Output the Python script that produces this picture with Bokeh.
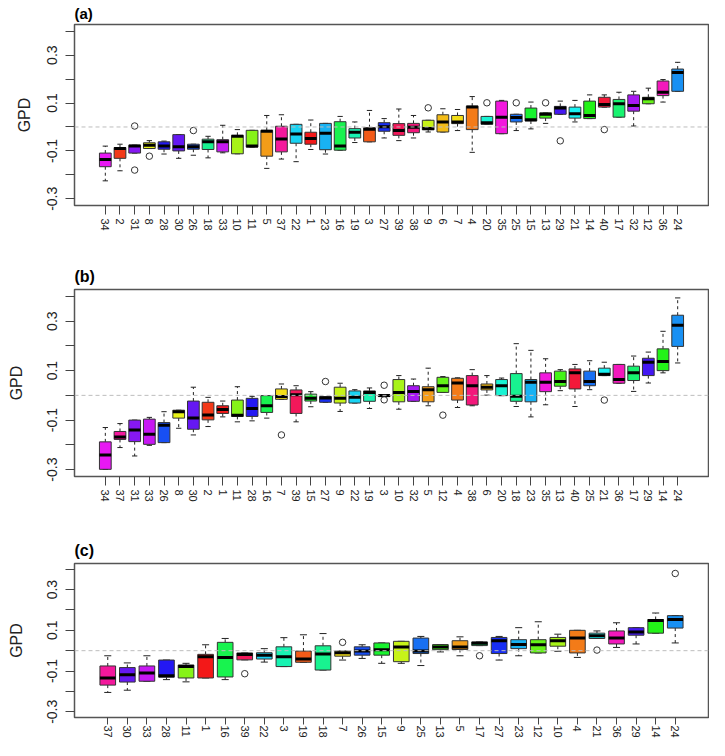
from bokeh.plotting import figure
from bokeh.models import Range1d, FixedTicker, PrintfTickFormatter, ColumnDataSource, Span
from bokeh.layouts import column
from bokeh.embed import file_html
from bokeh.resources import INLINE

FONT = "Liberation Sans"

# rainbow(40) colour of each site number 1..40
RAINBOW40 = ["#FF0000", "#FF2600", "#FF4D00", "#FF7300", "#FF9900", "#FFBF00", "#FFE600", "#F2FF00",
             "#CCFF00", "#A6FF00", "#80FF00", "#59FF00", "#33FF00", "#0DFF00", "#00FF1A", "#00FF40",
             "#00FF66", "#00FF8C", "#00FFB3", "#00FFD9", "#00FFFF", "#00D9FF", "#00B3FF", "#008CFF",
             "#0066FF", "#0040FF", "#001AFF", "#0D00FF", "#3300FF", "#5900FF", "#8000FF", "#A600FF",
             "#CC00FF", "#F200FF", "#FF00E6", "#FF00BF", "#FF0099", "#FF0073", "#FF004D", "#FF0026"]

# ---------------- panel (a) ----------------
labels_a = ["34", "2", "31", "8", "28", "30", "26", "18", "33", "10", "11", "5", "37", "22", "1", "23", "16", "19", "3", "27",
            "39", "38", "9", "6", "7", "4", "20", "35", "25", "15", "13", "29", "21", "14", "40", "17", "32", "12", "36", "24"]
lo_a = [-0.225, -0.183, -0.109, -0.090, -0.113, -0.131, -0.118, -0.129, -0.108, -0.112,
        -0.084, -0.173, -0.134, -0.145, -0.094, -0.113, -0.097, -0.065, -0.062, -0.046,
        -0.057, -0.046, -0.021, -0.021, -0.015, -0.106, 0.011, -0.028, -0.015, -0.008,
        0.015, 0.053, 0.021, 0.035, 0.083, 0.041, 0.004, 0.097, 0.104, 0.149]
q1_a = [-0.166, -0.131, -0.109, -0.090, -0.093, -0.100, -0.093, -0.094, -0.104, -0.112,
        -0.084, -0.122, -0.104, -0.068, -0.072, -0.095, -0.097, -0.046, -0.062, -0.018,
        -0.035, -0.024, -0.012, -0.021, 0.014, -0.011, 0.011, -0.028, 0.021, 0.025,
        0.037, 0.053, 0.037, 0.035, 0.083, 0.041, 0.066, 0.097, 0.131, 0.149]
med_a = [-0.136, -0.090, -0.079, -0.076, -0.080, -0.083, -0.083, -0.062, -0.062, -0.039,
         -0.080, -0.018, -0.050, -0.029, -0.048, -0.026, -0.080, -0.022, -0.010, 0.001,
         -0.015, -0.001, -0.006, 0.021, 0.021, 0.083, 0.018, 0.041, 0.040, 0.030,
         0.053, 0.079, 0.055, 0.048, 0.094, 0.097, 0.090, 0.118, 0.145, 0.228]
q3_a = [-0.109, -0.086, -0.076, -0.066, -0.062, -0.032, -0.072, -0.051, -0.053, -0.035,
        -0.014, -0.014, 0.003, 0.011, -0.022, 0.015, 0.022, -0.007, -0.003, 0.018,
        0.014, 0.015, 0.028, 0.051, 0.048, 0.087, 0.044, 0.108, 0.053, 0.079,
        0.059, 0.086, 0.083, 0.108, 0.124, 0.115, 0.134, 0.124, 0.192, 0.242]
hi_a = [-0.080, -0.072, -0.076, -0.057, -0.059, -0.032, -0.072, -0.039, 0.007, -0.011,
        -0.014, 0.048, 0.051, 0.011, 0.029, 0.015, 0.044, 0.021, 0.069, 0.035,
        0.075, 0.048, 0.028, 0.076, 0.073, 0.127, 0.044, 0.111, 0.053, 0.104,
        0.059, 0.108, 0.111, 0.134, 0.134, 0.145, 0.149, 0.162, 0.198, 0.270]
out_lab_a = ["31", "31", "8", "26", "9", "20", "25", "13", "29", "40"]
out_val_a = [0.004, -0.180, -0.122, -0.015, 0.080, 0.101, 0.101, 0.101, -0.058, -0.011]

# ---------------- panel (b) ----------------
labels_b = ["34", "37", "31", "33", "26", "8", "30", "2", "1", "11", "28", "16", "7", "39", "15", "27", "9", "22", "19", "3",
            "10", "32", "5", "12", "4", "38", "6", "20", "18", "23", "35", "13", "40", "25", "21", "36", "17", "29", "14", "24"]
lo_b = [-0.299, -0.211, -0.245, -0.202, -0.191, -0.133, -0.160, -0.126, -0.087, -0.107,
        -0.103, -0.092, -0.016, -0.107, -0.046, -0.028, -0.065, -0.031, -0.053, -0.005,
        -0.056, -0.024, -0.042, 0.012, -0.049, -0.042, 0.001, -0.001, -0.045, -0.087,
        -0.038, 0.019, -0.045, 0.023, 0.080, 0.049, 0.016, 0.050, 0.091, 0.131]
q1_b = [-0.299, -0.178, -0.187, -0.198, -0.191, -0.092, -0.137, -0.099, -0.073, -0.085,
        -0.085, -0.069, -0.016, -0.073, -0.023, -0.028, -0.031, -0.031, -0.024, -0.005,
        -0.026, -0.024, -0.026, 0.012, -0.019, -0.039, 0.022, -0.001, -0.024, -0.026,
        0.015, 0.037, 0.026, 0.039, 0.080, 0.049, 0.060, 0.080, 0.100, 0.198]
med_b = [-0.241, -0.168, -0.140, -0.157, -0.121, -0.066, -0.092, -0.079, -0.057, -0.080,
         -0.053, -0.042, -0.005, 0.003, -0.012, -0.011, -0.012, -0.008, 0.012, -0.001,
         0.012, 0.016, 0.023, 0.039, 0.050, 0.039, 0.033, 0.039, -0.004, 0.053,
         0.053, 0.056, 0.091, 0.056, 0.085, 0.064, 0.091, 0.134, 0.137, 0.283]
q3_b = [-0.188, -0.146, -0.100, -0.096, -0.110, -0.060, -0.023, -0.028, -0.042, -0.019,
        -0.012, -0.001, 0.026, 0.022, 0.005, -0.005, 0.033, 0.018, 0.018, 0.001,
        0.064, 0.039, 0.035, 0.073, 0.069, 0.080, 0.046, 0.064, 0.088, 0.064,
        0.091, 0.098, 0.107, 0.098, 0.110, 0.125, 0.118, 0.150, 0.188, 0.324]
hi_b = [-0.130, -0.114, -0.100, -0.089, -0.066, -0.060, 0.033, -0.008, -0.023, 0.035,
        -0.004, -0.001, 0.046, 0.039, 0.015, -0.005, 0.049, 0.023, 0.030, 0.001,
        0.080, 0.066, 0.110, 0.076, 0.071, 0.104, 0.080, 0.070, 0.209, 0.182,
        0.148, 0.104, 0.125, 0.140, 0.134, 0.125, 0.159, 0.175, 0.259, 0.394]
out_lab_b = ["7", "27", "3", "3", "12", "21"]
out_val_b = [-0.160, 0.056, 0.041, -0.018, -0.080, -0.019]

# ---------------- panel (c) ----------------
labels_c = ["37", "30", "33", "28", "11", "1", "16", "39", "22", "3", "19", "18", "7", "26", "15",
            "9", "25", "13", "5", "17", "27", "23", "12", "10", "4", "21", "36", "29", "14", "24"]
lo_c = [-0.205, -0.194, -0.150, -0.142, -0.153, -0.134, -0.142, -0.045, -0.056, -0.078,
        -0.057, -0.095, -0.046, -0.038, -0.062, -0.062, -0.073, -0.006, -0.025, 0.025,
        -0.046, -0.025, -0.011, -0.003, -0.033, 0.060, 0.016, 0.033, 0.086, 0.038]
q1_c = [-0.169, -0.154, -0.150, -0.130, -0.134, -0.134, -0.129, -0.045, -0.041, -0.078,
        -0.057, -0.095, -0.027, -0.022, -0.022, -0.054, -0.014, 0.005, 0.006, 0.025,
        -0.014, 0.010, -0.011, 0.022, -0.011, 0.060, 0.033, 0.076, 0.086, 0.111]
med_c = [-0.134, -0.118, -0.110, -0.123, -0.078, -0.030, -0.033, -0.019, -0.022, -0.030,
         -0.041, -0.016, -0.010, -0.002, 0.005, 0.018, -0.002, 0.018, 0.018, 0.037,
         0.049, 0.030, 0.029, 0.049, 0.062, 0.073, 0.062, 0.092, 0.148, 0.153]
q3_c = [-0.075, -0.083, -0.075, -0.046, -0.070, -0.018, 0.041, -0.011, -0.010, 0.019,
        -0.002, 0.024, -0.002, 0.019, 0.038, 0.046, 0.062, 0.030, 0.049, 0.043,
        0.065, 0.054, 0.054, 0.065, 0.100, 0.086, 0.097, 0.113, 0.153, 0.172]
hi_c = [-0.025, -0.060, -0.025, -0.046, -0.062, 0.029, 0.060, -0.011, 0.010, 0.064,
        0.078, 0.084, -0.002, 0.029, 0.038, 0.046, 0.070, 0.030, 0.068, 0.043,
        0.070, 0.113, 0.142, 0.081, 0.100, 0.097, 0.137, 0.113, 0.185, 0.172]
out_lab_c = ["39", "7", "17", "21", "24"]
out_val_c = [-0.113, 0.041, -0.025, 0.003, 0.379]
colour_swap_c = {"3": "19", "19": "3"}   # panel (c) shows these two colours exchanged

yticks_labelled = [-0.3, -0.1, 0.1, 0.3]
yticks_plain = [-0.2, 0.0, 0.2, 0.4]


def soften(h):
    r, g, b = int(h[1:3], 16), int(h[3:5], 16), int(h[5:7], 16)
    f = lambda c: int(round(0.86 * c + 24))
    return "#%02x%02x%02x" % (f(r), f(g), f(b))


def make_panel(tag, labels, lo, q1, med, q3, hi, out_lab, out_val, swap,
               width, height, bl, bt, bb, br, tick_len, lab_off, axlab_off,
               tag_size, tag_standoff, xlab_off):
    n = len(labels)
    xs = list(range(1, n + 1))
    ext = 0.04 * n
    cols = [soften(RAINBOW40[int(swap.get(l, l)) - 1]) for l in labels]
    p = figure(width=width, height=height,
               x_range=Range1d(0.5 - ext, n + 0.5 + ext), y_range=Range1d(-0.328, 0.428),
               output_backend="svg", toolbar_location=None,
               min_border_left=bl, min_border_top=bt, min_border_bottom=bb, min_border_right=br)
    p.xgrid.visible = False
    p.ygrid.visible = False
    p.outline_line_color = "#555555"
    p.outline_line_width = 1.5
    p.background_fill_color = "white"
    p.border_fill_color = "white"

    p.title.text = tag
    p.title.text_font = FONT
    p.title.text_font_size = tag_size
    p.title.text_font_style = "bold"
    p.title.text_color = "black"
    p.title.align = "left"
    p.title.standoff = tag_standoff
    p.title.offset = 0

    half = 0.4
    stap = 0.18
    src = ColumnDataSource(dict(
        x=xs, lo=lo, q1=q1, med=med, q3=q3, hi=hi, color=cols,
        xl=[x - half for x in xs], xr=[x + half for x in xs],
        sl=[x - stap for x in xs], sr=[x + stap for x in xs]))

    p.add_layout(Span(location=0, dimension="width", line_color="#bdbdbd",
                      line_dash="4 3", line_width=1))
    p.segment(x0="x", y0="q3", x1="x", y1="hi", source=src, line_color="#222222",
              line_dash="3 3", line_width=1)
    p.segment(x0="x", y0="q1", x1="x", y1="lo", source=src, line_color="#222222",
              line_dash="3 3", line_width=1)
    p.segment(x0="sl", y0="hi", x1="sr", y1="hi", source=src, line_color="#222222", line_width=1)
    p.segment(x0="sl", y0="lo", x1="sr", y1="lo", source=src, line_color="#222222", line_width=1)
    p.vbar(x="x", width=2 * half, bottom="q1", top="q3", source=src,
           fill_color="color", line_color="#333333", line_width=1)
    p.segment(x0="xl", y0="med", x1="xr", y1="med", source=src, line_color="black", line_width=3)

    pos = {l: i + 1 for i, l in enumerate(labels)}
    p.scatter(x=[pos[l] for l in out_lab], y=out_val, marker="circle", size=6.5,
              fill_color=None, line_color="#333333", line_width=1)

    # axes
    xa = p.xaxis[0]
    xa.ticker = FixedTicker(ticks=xs)
    xa.major_label_overrides = {x: l for x, l in zip(xs, labels)}
    xa.major_label_orientation = "vertical"
    xa.major_label_text_font = FONT
    xa.major_label_text_font_size = "11px"
    xa.major_label_text_color = "#222222"
    xa.major_label_standoff = xlab_off
    xa.major_tick_out = tick_len
    xa.major_tick_in = 0
    xa.major_tick_line_color = "#444444"
    xa.minor_tick_line_color = None
    xa.axis_line_color = None
    xa.axis_label_standoff = 0

    ya = p.yaxis[0]
    ya.ticker = FixedTicker(ticks=yticks_labelled, minor_ticks=yticks_plain)
    ya.formatter = PrintfTickFormatter(format="%.1f")
    ya.major_label_orientation = "vertical"
    ya.major_label_text_font = FONT
    ya.major_label_text_font_size = "14px"
    ya.major_label_text_color = "#222222"
    ya.major_label_standoff = lab_off
    ya.major_tick_out = 9
    ya.major_tick_in = 0
    ya.minor_tick_out = 9
    ya.minor_tick_in = 0
    ya.major_tick_line_color = "#444444"
    ya.minor_tick_line_color = "#444444"
    ya.axis_line_color = None
    ya.axis_label = "GPD"
    ya.axis_label_text_font = FONT
    ya.axis_label_text_font_size = "16px"
    ya.axis_label_text_font_style = "normal"
    ya.axis_label_text_color = "#222222"
    ya.axis_label_standoff = axlab_off
    return p


pa = make_panel("(a)", labels_a, lo_a, q1_a, med_a, q3_a, hi_a, out_lab_a, out_val_a, {},
                709, 252, 74, 24, 47, 1, 9, 8, 12, "15px", 5, 4)
pb = make_panel("(b)", labels_b, lo_b, q1_b, med_b, q3_b, hi_b, out_lab_b, out_val_b, {},
                709, 275, 71, 37, 51, 1, 9, 8, 20, "16px", 10, 4)
pc = make_panel("(c)", labels_c, lo_c, q1_c, med_c, q3_c, hi_c, out_lab_c, out_val_c, colour_swap_c,
                709, 213, 64, 36, 20, 1, 7, 8, 20, "16px", 9, 1)

layout = column(pa, pb, pc, spacing=0)
open("out.html", "w").write(file_html(layout, INLINE))
